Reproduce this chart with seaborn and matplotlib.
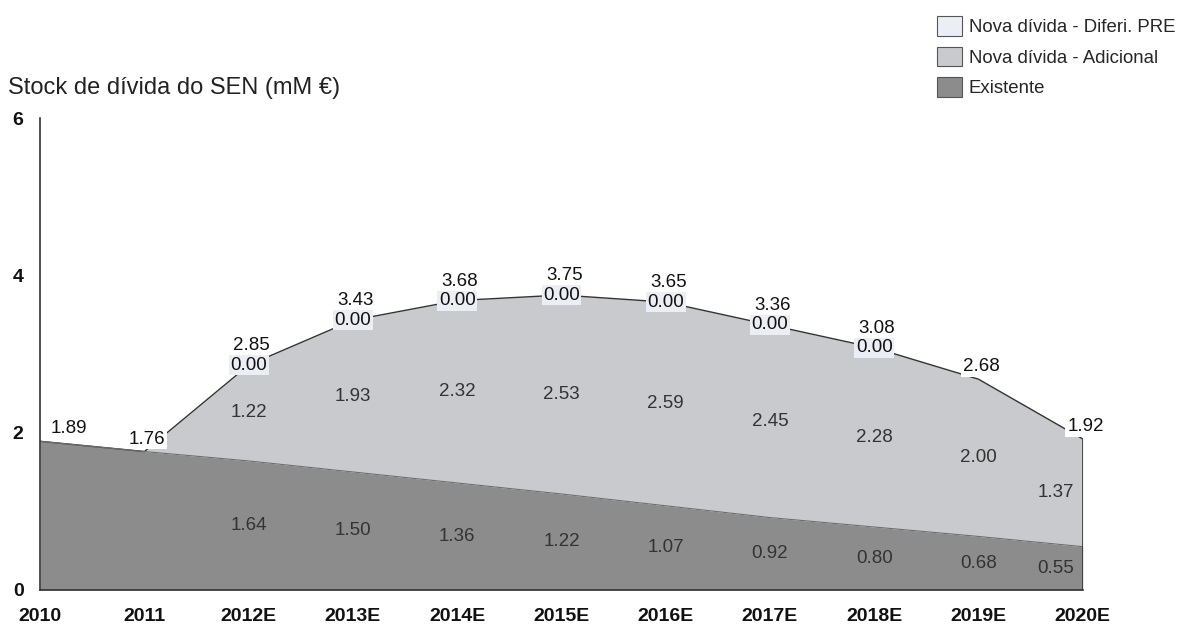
import matplotlib
matplotlib.use("Agg")
import matplotlib.pyplot as plt
import seaborn as sns
import numpy as np
from matplotlib.patches import Patch

sns.set_theme(style="white")
plt.rcParams["font.family"] = ["Liberation Sans", "DejaVu Sans"]

years = ["2010", "2011", "2012E", "2013E", "2014E", "2015E", "2016E",
         "2017E", "2018E", "2019E", "2020E"]
existente = [1.89, 1.76, 1.64, 1.50, 1.36, 1.22, 1.07, 0.92, 0.80, 0.68, 0.55]
adicional = [0.00, 0.00, 1.22, 1.93, 2.32, 2.53, 2.59, 2.45, 2.28, 2.00, 1.37]
diferi_pre = [0.00, 0.00, 0.00, 0.00, 0.00, 0.00, 0.00, 0.00, 0.00, 0.00, 0.00]
totals = [1.89, 1.76, 2.85, 3.43, 3.68, 3.75, 3.65, 3.36, 3.08, 2.68, 1.92]
# the PRE deferral series carries labels only where it is defined
diferi_labelled = [False, False, True, True, True, True, True, True, True, False, False]

c_exist = "#8c8c8d"
c_adic = "#c9cacd"
c_dif = "#eceef6"
FS = 13.5

fig = plt.figure(figsize=(11.82, 6.35), dpi=100)
ax = fig.add_axes([0.034, 0.071, 0.882, 0.743])

x = np.arange(len(years))
ex = np.array(existente)
ad = np.array(adicional)
df = np.array(diferi_pre)

ax.stackplot(x, ex, ad, df, colors=[c_exist, c_adic, c_dif],
             linewidth=0, zorder=1)
top = ex + ad + df
ax.plot(x, top, color="#333333", lw=1.0, zorder=2)
ax.plot(x, ex, color="#6e6e6e", lw=0.8, zorder=2)
ax.vlines(x[-1], 0, top[-1], color="#333333", lw=1.2, zorder=2)

ax.set_xlim(0, len(years) - 1)
ax.set_ylim(0, 6)
ax.set_yticks([0, 2, 4, 6])
ax.set_xticks(x)
ax.set_xticklabels(years)

for s in ["top", "right"]:
    ax.spines[s].set_visible(False)
for s in ["left", "bottom"]:
    ax.spines[s].set_color("#333333")
    ax.spines[s].set_linewidth(1.2)
ax.tick_params(axis="both", which="both", direction="out", length=5,
               width=1.0, color="#333333", labelsize=14, labelcolor="#111111")
ax.tick_params(axis="x", pad=8)
ax.tick_params(axis="y", pad=7)
for lab in ax.get_xticklabels() + ax.get_yticklabels():
    lab.set_fontweight("bold")

# values inside each band; the last column leans inward from the edge
for i in range(len(years)):
    if ad[i] > 0:
        last = i == len(years) - 1
        ha = "right" if last else "center"
        dx = -6 if last else 0
        ax.annotate(f"{ad[i]:.2f}", (x[i], ex[i] + ad[i] / 2), xytext=(dx, 0),
                    textcoords="offset points", ha=ha, va="center",
                    fontsize=FS, color="#333333", zorder=3)
        ax.annotate(f"{ex[i]:.2f}", (x[i], ex[i] / 2), xytext=(dx, 0),
                    textcoords="offset points", ha=ha, va="center",
                    fontsize=FS, color="#333333", zorder=3)

# totals on top of the stack
for i in range(len(years)):
    dx = 21 if i == 0 else 2
    dy = 14 if diferi_labelled[i] else 9
    box = None if diferi_labelled[i] else dict(boxstyle="square,pad=0.1",
                                                fc="white", ec="none")
    ax.annotate(f"{totals[i]:.2f}", (x[i], top[i]), xytext=(dx, dy),
                textcoords="offset points", ha="center", va="center",
                fontsize=FS, color="#111111", zorder=4, bbox=box)

# PRE deferral labels sit on the top edge
for i in range(len(years)):
    if diferi_labelled[i]:
        ax.text(x[i], top[i] - df[i] / 2, f"{df[i]:.2f}", ha="center",
                va="center", fontsize=FS, color="#111111", zorder=5,
                bbox=dict(boxstyle="square,pad=0.08", fc=c_dif, ec="none"))

fig.text(0.007, 0.862, "Stock de dívida do SEN (mM €)", fontsize=17,
         color="#222222", ha="left", va="center")

handles = [Patch(fc=c_dif, ec="#555555", lw=0.8),
           Patch(fc=c_adic, ec="#555555", lw=0.8),
           Patch(fc=c_exist, ec="#555555", lw=0.8)]
labels = ["Nova dívida - Diferi. PRE", "Nova dívida - Adicional", "Existente"]
fig.legend(handles, labels, loc="upper left", bbox_to_anchor=(0.782, 0.995),
           frameon=False, fontsize=13.4, handlelength=1.35, handleheight=1.25,
           handletextpad=0.35, labelspacing=0.55, borderaxespad=0.3)

fig.savefig("out.png", dpi=100, facecolor="white")
